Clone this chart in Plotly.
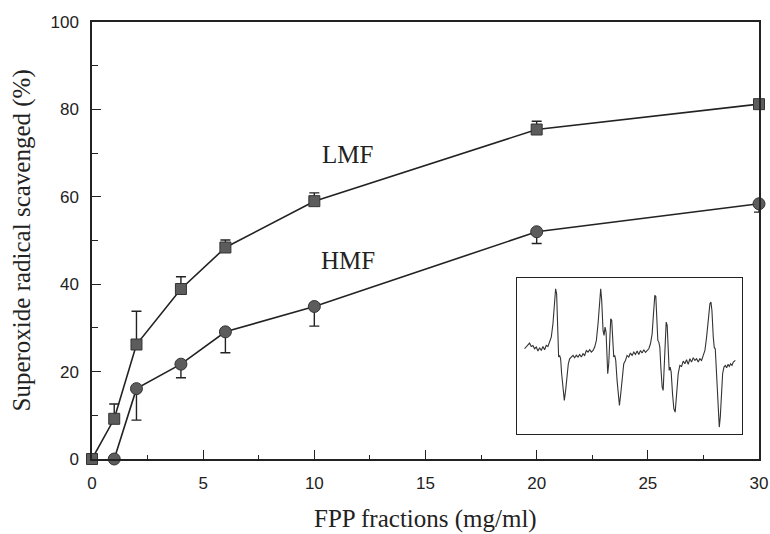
import plotly.graph_objects as go

# ---- data ----
lmf_x = [0, 1, 2, 4, 6, 10, 20, 30]
lmf_y = [0, 9.2, 26.2, 38.9, 48.4, 59.0, 75.4, 81.2]
lmf_err = [0, 3.4, 7.6, 2.8, 1.7, 1.9, 1.9, 0]

hmf_x = [1, 2, 4, 6, 10, 20, 30]
hmf_y = [0, 16.1, 21.7, 29.1, 34.9, 52.0, 58.4]
hmf_err = [0, 7.2, 3.1, 4.8, 4.5, 2.7, 1.9]

x_ticks = [0, 5, 10, 15, 20, 25, 30]
y_ticks = [0, 20, 40, 60, 80, 100]

# inset EPR spectrum (arbitrary units)
spec_field = [75, 85, 90, 95, 100, 105, 110, 115, 120, 125, 130, 135, 140, 145, 150, 155, 160, 165, 168, 171,
              174, 177, 180, 183, 186, 190, 194, 198, 202, 206, 210, 215, 220, 225, 230, 235, 240, 245, 250, 255,
              260, 265, 270, 275, 280, 285, 290, 295, 300, 303, 306, 310, 313, 316, 319, 322, 324, 327, 330, 333,
              336, 339, 342, 345, 348, 352, 356, 359, 363, 367, 372, 377, 382, 387, 392, 397, 402, 407, 412, 417,
              422, 427, 432, 437, 442, 447, 452, 457, 461, 465, 468, 471, 474, 477, 480, 483, 487, 490, 493, 496,
              499, 502, 505, 508, 511, 514, 518, 522, 526, 530, 535, 540, 545, 550, 555, 560, 565, 570, 575, 580,
              585, 590, 595, 600, 605, 610, 615, 620, 625, 630, 633, 636, 640, 643, 646, 649, 652, 655, 658, 661,
              664, 668, 672, 676, 680, 684, 688, 692, 696, 700, 706]
spec_signal = [35, 45, 52, 42, 45, 35, 40, 28, 38, 30, 42, 32, 45, 42, 55, 70, 110, 170, 215, 200,
               120, 10, 15, 5, -40, -90, -120, -90, -40, -10, 5, 10, 15, 8, 16, 10, 18, 10, 20, 15,
               30, 25, 32, 25, 30, 40, 60, 110, 190, 215, 180, 90, 75, 100, 85, 10, -40, -10, 70, 125,
               120, 60, 10, 15, 0, -60, -110, -135, -100, -50, -10, 0, 15, 10, 22, 15, 25, 18, 28, 18,
               30, 22, 32, 24, 30, 35, 50, 80, 140, 195, 192, 130, 60, 55, 40, -20, -80, -90, -30, 70,
               115, 105, 40, -30, -20, -35, -100, -145, -155, -100, -40, -15, -18, -2, -10, 2, -12, 5, -5, 8,
               0, 5, -5, 5, 0, 15, 30, 70, 115, 170, 175, 150, 70, 38, 35, -20, -100, -170, -200, -170,
               -100, -40, -20, -15, -22, -12, -18, -10, -15, -5, 0]

INK = "#222222"
MARK = "#5c5c5c"
SERIF = "Liberation Serif"
SANS = "Liberation Sans"

fig = go.Figure()

fig.add_trace(go.Scatter(
    x=lmf_x, y=lmf_y, mode="lines+markers", name="LMF",
    line=dict(color=INK, width=1.6),
    marker=dict(symbol="square", size=11, color=MARK, line=dict(color="#333333", width=1)),
    error_y=dict(type="data", symmetric=False, array=lmf_err, arrayminus=[0] * len(lmf_err),
                 color=INK, thickness=1.4, width=5),
    cliponaxis=False, showlegend=False,
))
fig.add_trace(go.Scatter(
    x=hmf_x, y=hmf_y, mode="lines+markers", name="HMF",
    line=dict(color=INK, width=1.6),
    marker=dict(symbol="circle", size=12, color=MARK, line=dict(color="#333333", width=1)),
    error_y=dict(type="data", symmetric=False, array=[0] * len(hmf_err), arrayminus=hmf_err,
                 color=INK, thickness=1.4, width=5),
    cliponaxis=False, showlegend=False,
))

fig.add_trace(go.Scatter(
    x=spec_field, y=spec_signal, mode="lines", xaxis="x2", yaxis="y2",
    line=dict(color="#333333", width=1.1), showlegend=False, hoverinfo="skip",
))

fig.update_layout(
    width=770, height=534,
    margin=dict(l=92, r=11, t=22, b=75),
    paper_bgcolor="white", plot_bgcolor="white",
    xaxis=dict(
        range=[0, 30], tickvals=x_ticks, ticktext=[str(v) for v in x_ticks],
        ticks="inside", ticklen=9, tickwidth=1.2, tickcolor=INK,
        minor=dict(ticks="inside", ticklen=4, dtick=2.5, tickcolor=INK, tickwidth=1),
        showline=True, linecolor=INK, linewidth=1.5, mirror=True,
        showgrid=False, zeroline=False, automargin=False,
        tickfont=dict(family=SANS, size=17, color=INK), ticklabelstandoff=8,
    ),
    yaxis=dict(
        range=[0, 100], tickvals=y_ticks, ticktext=[str(v) for v in y_ticks],
        ticks="inside", ticklen=9, tickwidth=1.2, tickcolor=INK,
        minor=dict(ticks="inside", ticklen=6, dtick=10, tickcolor=INK, tickwidth=1),
        showline=True, linecolor=INK, linewidth=1.5, mirror=True,
        showgrid=False, zeroline=False, automargin=False,
        tickfont=dict(family=SANS, size=17, color=INK), ticklabelstandoff=8,
    ),
    xaxis2=dict(domain=[0.637, 0.975], anchor="y2", range=[52, 727],
                showline=True, linecolor=INK, linewidth=1.3, mirror=True, automargin=False,
                showticklabels=False, ticks="", showgrid=False, zeroline=False),
    yaxis2=dict(domain=[0.057, 0.414], anchor="x2", range=[-221, 247],
                showline=True, linecolor=INK, linewidth=1.3, mirror=True, automargin=False,
                showticklabels=False, ticks="", showgrid=False, zeroline=False),
    annotations=[
        dict(x=11.5, y=69.6, xref="x", yref="y", text="LMF", showarrow=False,
             font=dict(family=SERIF, size=25, color=INK)),
        dict(x=11.5, y=45.5, xref="x", yref="y", text="HMF", showarrow=False,
             font=dict(family=SERIF, size=25, color=INK)),
        dict(x=0.5, y=-0.137, xref="paper", yref="paper", text="FPP fractions (mg/ml)",
             showarrow=False, xanchor="center", yanchor="middle",
             font=dict(family=SERIF, size=25, color=INK)),
        dict(x=-0.105, y=0.5, xref="paper", yref="paper", text="Superoxide radical scavenged (%)",
             showarrow=False, xanchor="center", yanchor="middle", textangle=-90,
             font=dict(family=SERIF, size=25, color=INK)),
    ],
)

# remove the browser's default page margin so the figure sits at the window's top-left corner
fig.write_html("out.html", config={"displayModeBar": False},
               post_script="document.body.style.margin='0';document.body.style.overflow='hidden';")
